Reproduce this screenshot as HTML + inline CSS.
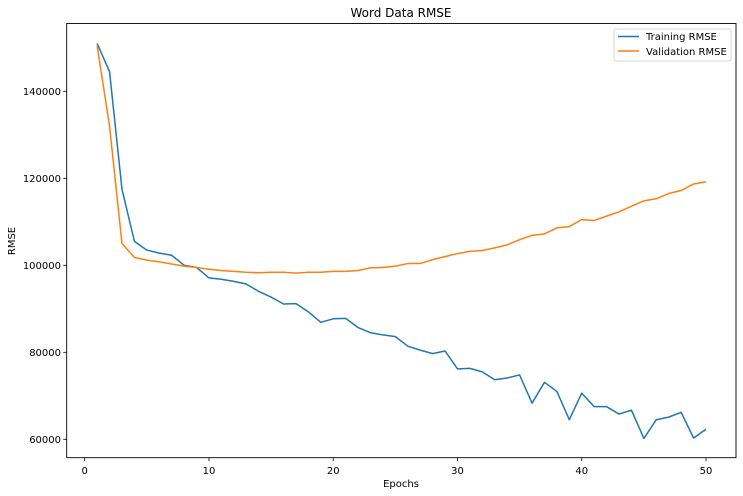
<!DOCTYPE html>
<html><head><meta charset="utf-8"><style>
body{margin:0;background:#fff}
svg{display:block;font-family:"DejaVu Sans","Liberation Sans",sans-serif}
</style></head><body>
<svg id="c" width="743" height="496">
<rect x="0" y="0" width="743" height="496" fill="#fff"/>
<text x="401" y="17" font-size="12" text-anchor="middle">Word Data RMSE</text>
<g id="plot"></g>
<rect x="66.7" y="23.5" width="669.3" height="434.2" fill="none" stroke="#000" stroke-width="0.9"/>
<text x="401" y="487" font-size="10" text-anchor="middle">Epochs</text>
<text transform="translate(15,241) rotate(-90)" font-size="10" text-anchor="middle">RMSE</text>
<g>
<rect x="614" y="29" width="117" height="32" rx="2" fill="#fff" stroke="#ccc" stroke-width="0.8"/>
<line x1="618" y1="36.5" x2="639" y2="36.5" stroke="#1f77b4" stroke-width="1.5"/>
<text x="646" y="40" font-size="10">Training RMSE</text>
<line x1="618" y1="51" x2="639" y2="51" stroke="#ff7f0e" stroke-width="1.5"/>
<text x="646" y="55" font-size="10">Validation RMSE</text>
</g>
</svg>
<script>
const epochs = Array.from({length:50},(_,i)=>i+1);
const trainingRmse = [151000,144500,117500,105500,103500,102800,102300,100000,99500,97100,96800,96300,95700,94000,92700,91100,91200,89300,86900,87700,87800,85700,84500,84000,83600,81400,80500,79700,80300,76200,76300,75500,73700,74100,74800,68300,73100,71000,64500,70600,67500,67500,65800,66700,60200,64500,65100,66200,60300,62300];
const validationRmse = [150500,132000,105000,101800,101200,100800,100300,99800,99500,99100,98800,98600,98400,98300,98400,98400,98200,98400,98400,98600,98600,98800,99400,99500,99800,100400,100400,101300,102000,102700,103200,103400,104000,104700,105900,106900,107200,108600,108900,110500,110300,111300,112300,113600,114800,115300,116500,117200,118700,119200];
const xTicks = [0,10,20,30,40,50];
const yTicks = [60000,80000,100000,120000,140000];
const yTickLabels = ["60000","80000","100000","120000","140000"];

const X = v => 84.7 + v*(706-84.7)/50;
const Y = v => 265.3 - (v-100000)*87/20000;
const NS="http://www.w3.org/2000/svg";
const g=document.getElementById('plot');
function mk(t,a){const e=document.createElementNS(NS,t);for(const k in a)e.setAttribute(k,a[k]);g.appendChild(e);return e;}
xTicks.forEach(t=>{
  const l=mk('line',{x1:X(t),x2:X(t),y1:457.7,y2:461.2,stroke:'#000','stroke-width':0.8});
  
  
  const s=mk('text',{x:X(t),y:474,'font-size':10,'text-anchor':'middle'});
  s.textContent=t;
  
  
});
yTicks.forEach((t,i)=>{
  const l=mk('line',{x1:63.2,x2:66.7,y1:Y(t),y2:Y(t),stroke:'#000','stroke-width':0.8});
  
  
  const s=mk('text',{x:61,y:Y(t)+3.5,'font-size':10,'text-anchor':'end'});
  s.textContent=yTickLabels[i];
  
  
});
const p1=mk('polyline',{points:epochs.map((e,i)=>X(e)+','+Y(trainingRmse[i])).join(' '),fill:'none',stroke:'#1f77b4','stroke-width':1.5,'stroke-linejoin':'round'});


const p2=mk('polyline',{points:epochs.map((e,i)=>X(e)+','+Y(validationRmse[i])).join(' '),fill:'none',stroke:'#ff7f0e','stroke-width':1.5,'stroke-linejoin':'round'});


</script>
</body></html>
